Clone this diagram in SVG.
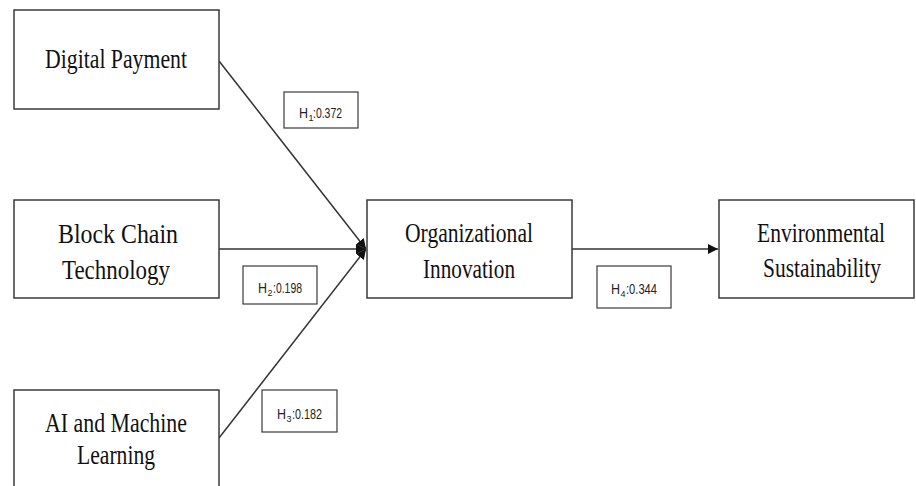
<svg xmlns="http://www.w3.org/2000/svg" width="916" height="486" viewBox="0 0 916 486">
<style>
.box{fill:#fff;stroke:#3a3a3a;stroke-width:1.5}
.t{font-family:"Liberation Serif","Times New Roman",serif;font-size:27px;fill:#111;text-anchor:start}
.lb{fill:#fff;stroke:#3a3a3a;stroke-width:1.2}
.l{font-family:"Liberation Sans",Arial,sans-serif;font-size:15px;fill:#222}
.s{font-family:"Liberation Sans",Arial,sans-serif;font-size:9px;fill:#222}
.c{stroke:#333;stroke-width:1.5;fill:none}
</style>
<defs>
<marker id="ah" viewBox="0 0 10 10" refX="10" refY="5" markerWidth="10" markerHeight="10" markerUnits="userSpaceOnUse" orient="auto">
<path d="M0,0 L10,5 L0,10 Z" fill="#111"/>
</marker>
</defs>
<rect width="916" height="486" fill="#fff"/>
<g id="connectors">
<line class="c" x1="219" y1="61" x2="366" y2="249" marker-end="url(#ah)"/>
<line class="c" x1="219" y1="249" x2="366" y2="249" marker-end="url(#ah)"/>
<line class="c" x1="219" y1="438" x2="366" y2="249" marker-end="url(#ah)"/>
<line class="c" x1="572" y1="249" x2="718" y2="249" marker-end="url(#ah)"/>
</g>
<g id="digital-payment">
<rect class="box" x="14" y="10" width="205" height="99"/>
<text class="t" x="45" y="68" textLength="142" lengthAdjust="spacingAndGlyphs">Digital Payment</text>
</g>
<g id="block-chain">
<rect class="box" x="14" y="200" width="205" height="98"/>
<text class="t" x="58" y="243" textLength="120" lengthAdjust="spacingAndGlyphs">Block Chain</text>
<text class="t" x="62" y="279" textLength="108" lengthAdjust="spacingAndGlyphs">Technology</text>
</g>
<g id="ai-ml">
<rect class="box" x="14" y="390" width="205" height="110"/>
<text class="t" x="45" y="432" textLength="142" lengthAdjust="spacingAndGlyphs">AI and Machine</text>
<text class="t" x="77" y="464" textLength="78" lengthAdjust="spacingAndGlyphs">Learning</text>
</g>
<g id="org-innovation">
<rect class="box" x="367" y="200" width="205" height="98"/>
<text class="t" x="405" y="242" textLength="128" lengthAdjust="spacingAndGlyphs">Organizational</text>
<text class="t" x="423" y="278" textLength="92" lengthAdjust="spacingAndGlyphs">Innovation</text>
</g>
<g id="env-sustainability">
<rect class="box" x="719" y="200" width="195" height="98"/>
<text class="t" x="757" y="242" textLength="128" lengthAdjust="spacingAndGlyphs">Environmental</text>
<text class="t" x="763" y="277" textLength="118" lengthAdjust="spacingAndGlyphs">Sustainability</text>
</g>
<g id="h1">
<rect class="lb" x="284" y="92" width="74" height="36"/>
<text class="l" x="299" y="118" textLength="9" lengthAdjust="spacingAndGlyphs">H</text>
<text class="s" x="308.5" y="121">1</text>
<text class="l" x="313" y="118" textLength="29" lengthAdjust="spacingAndGlyphs">:0.372</text>
</g>
<g id="h2">
<rect class="lb" x="243" y="266" width="74" height="38"/>
<text class="l" x="258" y="293" textLength="9" lengthAdjust="spacingAndGlyphs">H</text>
<text class="s" x="267.5" y="296">2</text>
<text class="l" x="273" y="293" textLength="29" lengthAdjust="spacingAndGlyphs">:0.198</text>
</g>
<g id="h3">
<rect class="lb" x="262" y="390" width="75" height="42"/>
<text class="l" x="277" y="419" textLength="9" lengthAdjust="spacingAndGlyphs">H</text>
<text class="s" x="286.5" y="422">3</text>
<text class="l" x="292" y="419" textLength="30" lengthAdjust="spacingAndGlyphs">:0.182</text>
</g>
<g id="h4">
<rect class="lb" x="597" y="266" width="74" height="42"/>
<text class="l" x="611" y="294" textLength="9" lengthAdjust="spacingAndGlyphs">H</text>
<text class="s" x="620.5" y="297">4</text>
<text class="l" x="626" y="294" textLength="31" lengthAdjust="spacingAndGlyphs">:0.344</text>
</g>
</svg>
